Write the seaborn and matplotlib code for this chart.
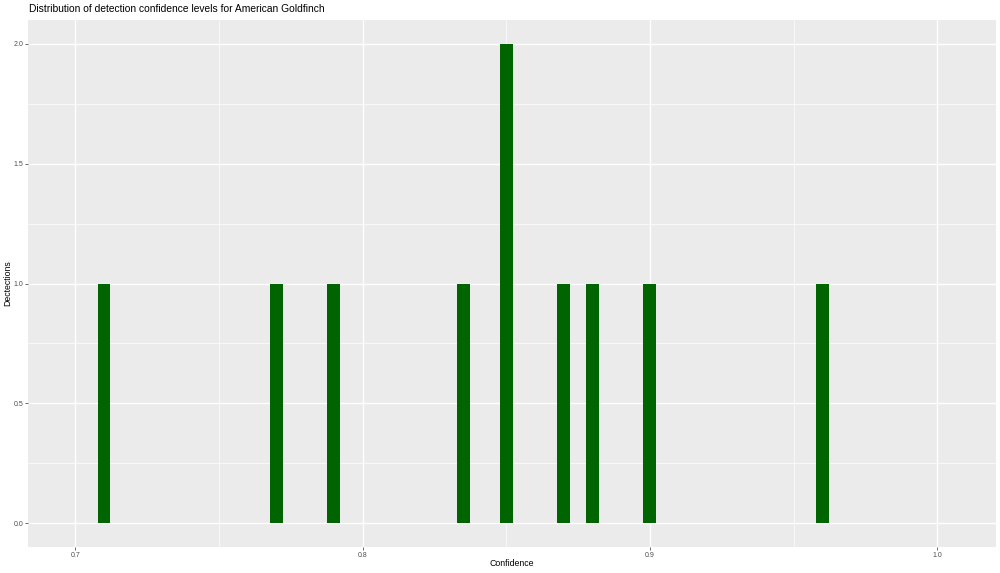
import numpy as np
import pandas as pd
import matplotlib
matplotlib.use("Agg")
import matplotlib.pyplot as plt
from matplotlib.ticker import MultipleLocator
import seaborn as sns

# detection confidence values for American Goldfinch
confidence = [0.71, 0.77, 0.79, 0.835, 0.85, 0.85, 0.87, 0.88, 0.90, 0.96]
x_ticks = [0.7, 0.8, 0.9, 1.0]
x_tick_labels = ["0.7", "0.8", "0.9", "1.0"]
y_ticks = [0.0, 0.5, 1.0, 1.5, 2.0]
y_tick_labels = ["0.0", "0.5", "1.0", "1.5", "2.0"]

title = "Distribution of detection confidence levels for American Goldfinch"
x_label = "Confidence"
y_label = "Dectections"

sns.set_theme(style="darkgrid", rc={
    "axes.facecolor": "#EBEBEB",
    "grid.color": "white",
})
plt.rcParams["font.family"] = ["Liberation Sans", "DejaVu Sans"]

df = pd.DataFrame({"confidence": confidence})

fig = plt.figure(figsize=(10, 5.73), dpi=100)
ax = fig.add_axes([28.3 / 1000, 1 - 547 / 573, (995.7 - 28.3) / 1000, (547 - 20) / 573])

sns.histplot(data=df, x="confidence", binwidth=0.005, binrange=(0.7075, 0.9625),
             shrink=0.9, color="#006400", alpha=1, linewidth=0, ax=ax)

ax.set_xlim(0.68364, 1.02036)
ax.set_ylim(-0.1, 2.1)
ax.set_xticks(x_ticks)
ax.set_xticklabels(x_tick_labels)
ax.set_yticks(y_ticks)
ax.set_yticklabels(y_tick_labels)
ax.xaxis.set_minor_locator(MultipleLocator(0.05))
ax.yaxis.set_minor_locator(MultipleLocator(0.25))
ax.grid(which="major", color="white", linewidth=1.0)
ax.grid(which="minor", color="white", linewidth=0.5)
ax.set_axisbelow(True)
for s in ax.spines.values():
    s.set_visible(False)
ax.tick_params(which="major", length=2, width=0.5, color="#333333",
               labelcolor="#4D4D4D", labelsize=5, pad=1.5)
ax.tick_params(which="minor", length=0)
ax.tick_params(axis="x", bottom=True)
ax.tick_params(axis="y", left=True)
ax.set_xlabel("")
ax.set_ylabel("")

fig.text(29 / 1000, 1 - 9 / 573, title, ha="left", va="center", fontsize=7.4, color="black")
fig.text(512 / 1000, 1 - 564 / 573, x_label, ha="center", va="center", fontsize=6.3, color="black")
fig.text(8 / 1000, 1 - 283 / 573, y_label, ha="center", va="center", rotation=90,
         fontsize=6.3, color="black")

fig.savefig("out.png", dpi=100)
